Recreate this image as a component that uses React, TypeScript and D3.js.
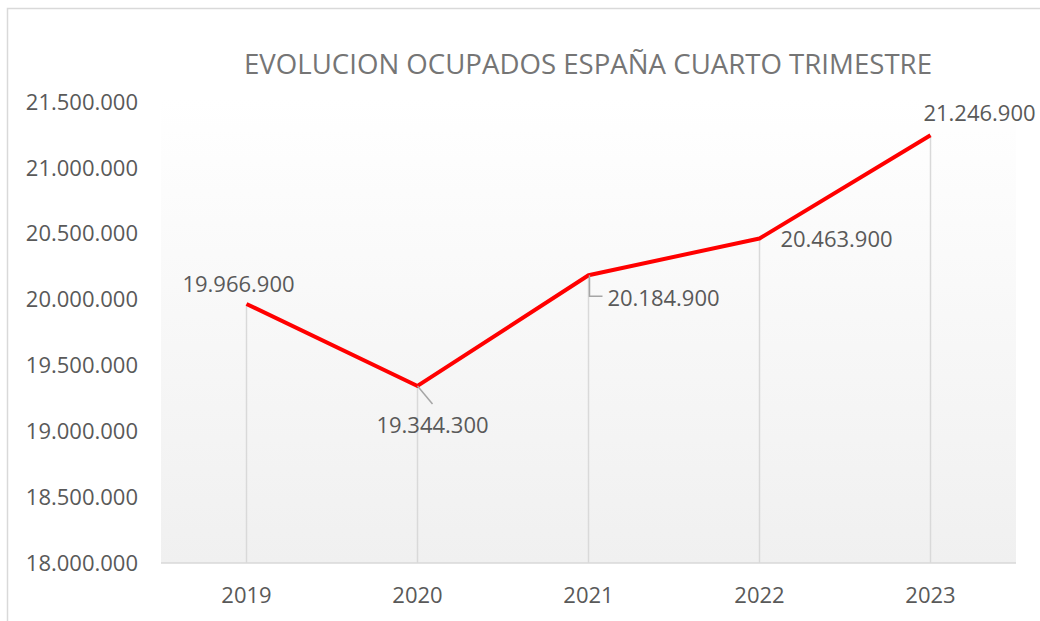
import React, { useEffect, useRef } from 'react';
import * as d3 from 'd3';

const years = ['2019', '2020', '2021', '2022', '2023'];
const ocupados = [19966900, 19344300, 20184900, 20463900, 21246900];
const yTicks = [18000000, 18500000, 19000000, 19500000, 20000000, 20500000, 21000000, 21500000];
const title = 'EVOLUCION OCUPADOS ESPAÑA CUARTO TRIMESTRE';

const fmt = (v: number) => d3.format(',')(v).replace(/,/g, '.');

const App = () => {
  const svgRef = useRef<SVGSVGElement>(null);

  useEffect(() => {
    const svg = d3.select(svgRef.current);
    svg.selectAll('*').remove();

    const width = 1040;
    const height = 621;
    const margin = { top: 102, right: 24, bottom: 58, left: 161 };
    const font = '"Open Sans", sans-serif';

    // marco del gráfico
    svg.append('rect')
      .attr('x', 7.5).attr('y', 8.5)
      .attr('width', 1100).attr('height', 700)
      .attr('fill', 'white')
      .attr('stroke', '#d9d9d9').attr('stroke-width', 1.5);

    const defs = svg.append('defs');
    const grad = defs.append('linearGradient')
      .attr('id', 'plotbg').attr('x1', 0).attr('y1', 0).attr('x2', 0).attr('y2', 1);
    grad.append('stop').attr('offset', '0%').attr('stop-color', '#ffffff');
    grad.append('stop').attr('offset', '100%').attr('stop-color', '#f0f0f0');

    const x = d3.scaleBand()
      .domain(years)
      .range([margin.left, width - margin.right]);

    const y = d3.scaleLinear()
      .domain([18000000, 21500000])
      .range([height - margin.bottom, margin.top]);

    const cx = (d: string) => (x(d) as number) + x.bandwidth() / 2;

    // fondo del área de trazado
    svg.append('rect')
      .attr('x', margin.left).attr('y', margin.top - 4)
      .attr('width', width - margin.left - margin.right)
      .attr('height', height - margin.bottom - margin.top + 4)
      .attr('fill', 'url(#plotbg)');

    // título
    svg.append('text')
      .attr('x', 588).attr('y', 74)
      .attr('text-anchor', 'middle')
      .attr('textLength', 688)
      .attr('lengthAdjust', 'spacingAndGlyphs')
      .style('font-family', font)
      .style('font-size', '27px')
      .style('fill', '#757575')
      .text(title);

    // eje Y
    svg.append('g')
      .selectAll('text')
      .data(yTicks)
      .enter().append('text')
      .attr('x', 138)
      .attr('y', d => y(d))
      .attr('dy', '0.35em')
      .attr('text-anchor', 'end')
      .style('font-family', font)
      .style('font-size', '22px')
      .style('fill', '#595959')
      .text(d => fmt(d));

    // líneas de caída
    svg.append('g')
      .selectAll('line')
      .data(years)
      .enter().append('line')
      .attr('x1', d => cx(d)).attr('x2', d => cx(d))
      .attr('y1', (d, i) => y(ocupados[i]))
      .attr('y2', y(18000000))
      .attr('stroke', '#d9d9d9').attr('stroke-width', 1.5);

    // eje X
    svg.append('line')
      .attr('x1', margin.left).attr('x2', width - margin.right)
      .attr('y1', y(18000000)).attr('y2', y(18000000))
      .attr('stroke', '#d9d9d9').attr('stroke-width', 1.5);

    svg.append('g')
      .selectAll('text')
      .data(years)
      .enter().append('text')
      .attr('x', d => cx(d))
      .attr('y', 603)
      .attr('text-anchor', 'middle')
      .style('font-family', font)
      .style('font-size', '22px')
      .style('fill', '#595959')
      .text(d => d);

    // línea
    const line = d3.line<number>()
      .x((d, i) => cx(years[i]))
      .y(d => y(d));

    svg.append('path')
      .datum(ocupados)
      .attr('d', line)
      .attr('fill', 'none')
      .attr('stroke', '#ff0000')
      .attr('stroke-width', 4)
      .attr('stroke-linejoin', 'round');

    // líneas guía de etiquetas
    const p1 = { x: cx(years[1]), y: y(ocupados[1]) };
    svg.append('line')
      .attr('x1', p1.x).attr('y1', p1.y)
      .attr('x2', p1.x + 15).attr('y2', p1.y + 18)
      .attr('stroke', '#a6a6a6').attr('stroke-width', 1.5);

    const p2 = { x: cx(years[2]), y: y(ocupados[2]) };
    svg.append('path')
      .attr('d', `M${p2.x + 1},${p2.y} L${p2.x + 1},${p2.y + 21} L${p2.x + 14},${p2.y + 21}`)
      .attr('fill', 'none')
      .attr('stroke', '#a6a6a6').attr('stroke-width', 1.5);

    // etiquetas de datos
    const labelPos = [
      { dx: -8, dy: -20 },
      { dx: 15, dy: 39 },
      { dx: 75, dy: 23 },
      { dx: 77, dy: 1 },
      { dx: 49, dy: -22 },
    ];

    svg.append('g')
      .selectAll('text')
      .data(ocupados)
      .enter().append('text')
      .attr('x', (d, i) => cx(years[i]) + labelPos[i].dx)
      .attr('y', (d, i) => y(d) + labelPos[i].dy)
      .attr('dy', '0.35em')
      .attr('text-anchor', 'middle')
      .style('font-family', font)
      .style('font-size', '22px')
      .style('fill', '#595959')
      .text(d => fmt(d));
  }, []);

  return (
    <svg
      ref={svgRef}
      width={1040}
      height={621}
      style={{ position: 'absolute', left: 0, top: 0, display: 'block', background: 'white' }}
    />
  );
};

export default App;
